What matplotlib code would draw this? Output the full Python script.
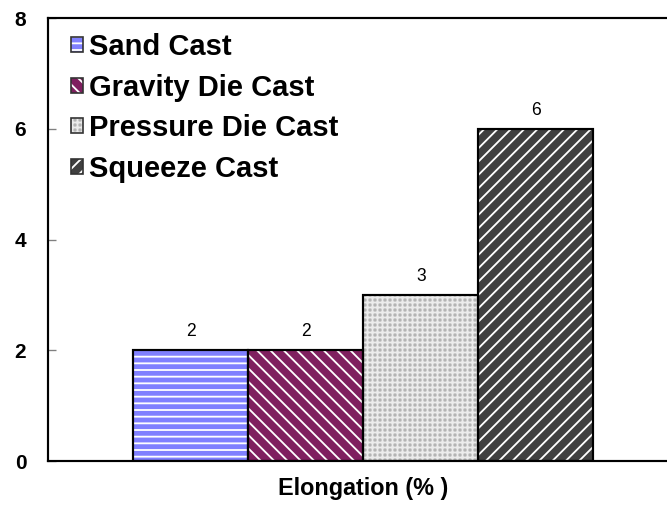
import matplotlib
matplotlib.use("Agg")
import matplotlib.pyplot as plt
from matplotlib.patches import Patch

# data
methods = ["Sand Cast", "Gravity Die Cast", "Pressure Die Cast", "Squeeze Cast"]
elongation = [2, 2, 3, 6]
colors = ["#8080ff", "#7f1f5f", "#b4b4b4", "#404040"]
hatch_colors = ["white", "white", "#ececec", "white"]
hatches = ["---", "\\\\\\", "++++", "///"]
y_ticks = [0, 2, 4, 6, 8]

plt.rcParams["font.family"] = ["Liberation Sans", "DejaVu Sans"]
plt.rcParams["hatch.linewidth"] = 1.1

DPI = 120
fig = plt.figure(figsize=(667 / DPI, 508 / DPI), dpi=DPI)
ax = fig.add_axes([0.072, 0.0925, 0.928, 0.872])

xs = list(range(len(methods)))
handles = []
for x, v, c, hc, h in zip(xs, elongation, colors, hatch_colors, hatches):
    # fill with light hatch, then black outline on top
    ax.bar(x, v, width=1.0, color=c, hatch=h, edgecolor=hc, linewidth=0, zorder=2)
    ax.bar(x, v, width=1.0, facecolor="none", edgecolor="black", linewidth=1.3, zorder=3)
    ax.text(x, v + 0.18, str(v), ha="center", va="bottom", fontsize=10.5)
    handles.append((Patch(facecolor=c, hatch=h, edgecolor=hc, linewidth=0),
                    Patch(facecolor="none", edgecolor="#333333", linewidth=1.0)))

ax.set_xlim(-1.239, 4.14)
ax.set_ylim(0, 8)
ax.set_yticks(y_ticks)
ax.set_yticklabels([str(t) for t in y_ticks], fontsize=12.5, fontweight="bold")
ax.tick_params(axis="y", direction="in", length=5, width=0.8, color="#808080", pad=13)
ax.set_xticks([])

for s in ["left", "bottom", "top"]:
    ax.spines[s].set_linewidth(1.3)
ax.spines["right"].set_visible(False)

ax.text(1.5, -0.49, "Elongation (% )", ha="center", va="center",
        fontsize=14, fontweight="bold")

ax.legend(handles, methods, loc="upper left", bbox_to_anchor=(0.018, 0.992),
          frameon=False, prop={"size": 17.5, "weight": "bold"},
          handlelength=0.42, handleheight=0.42, handletextpad=0.2,
          labelspacing=0.43, borderaxespad=0.0)

fig.savefig("out.png", dpi=DPI)
